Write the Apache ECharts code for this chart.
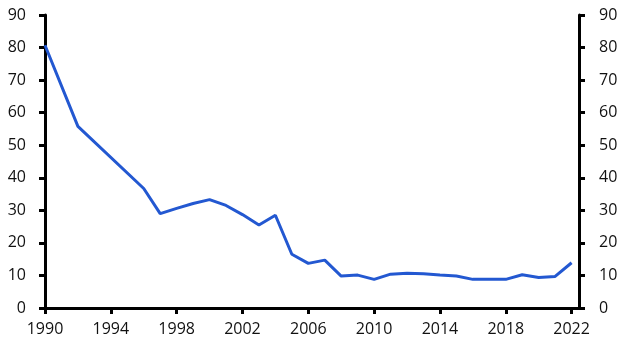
<!DOCTYPE html>
<html>
<head>
<meta charset="utf-8">
<script src="https://cdn.jsdelivr.net/npm/echarts@6/dist/echarts.min.js"></script>
<style>
html,body{margin:0;padding:0;background:#fff;}
#chart{width:629px;height:355px;}
</style>
</head>
<body>
<div id="chart"></div>
<script>
const years = [1990, 1992, 1996, 1997, 1998, 1999, 2000, 2001, 2002, 2003, 2004, 2005, 2006, 2007, 2008, 2009, 2010, 2011, 2012, 2013, 2014, 2015, 2016, 2017, 2018, 2019, 2020, 2021, 2022];
const values = [80.7, 55.8, 36.7, 29.0, 30.6, 32.1, 33.3, 31.5, 28.7, 25.5, 28.5, 16.5, 13.7, 14.7, 9.8, 10.1, 8.8, 10.4, 10.7, 10.5, 10.1, 9.8, 8.8, 8.8, 8.8, 10.2, 9.4, 9.7, 13.9];
const yTicks = [0, 10, 20, 30, 40, 50, 60, 70, 80, 90];
const xTickLabels = [1990, 1994, 1998, 2002, 2006, 2010, 2014, 2018, 2022];

const chart = echarts.init(document.getElementById('chart'), null, {renderer: 'canvas'});
const fontFamily = '"Open Sans", "Noto Sans", sans-serif';
const axisLineStyle = {color: '#000', width: 3};
const yAxisCommon = {
  type: 'value', min: yTicks[0], max: yTicks[yTicks.length - 1], interval: 10,
  axisLine: {show: true, lineStyle: axisLineStyle},
  axisTick: {show: true, length: 6, lineStyle: {color: '#000', width: 3}},
  splitLine: {show: false},
  axisLabel: {fontFamily: fontFamily, fontSize: 16, color: '#111'}
};
chart.setOption({
  animation: false,
  grid: {left: 45, right: 50, top: 15, bottom: 47},
  xAxis: {
    type: 'value', min: 1990, max: 2022.45, interval: 4,
    axisLine: {show: true, lineStyle: axisLineStyle, onZero: false},
    axisTick: {show: true, length: 6, lineStyle: {color: '#000', width: 3}},
    splitLine: {show: false},
    axisLabel: {
      fontFamily: fontFamily, fontSize: 16, color: '#111', margin: 13,
      showMaxLabel: false,
      formatter: function (v) { return xTickLabels.indexOf(v) >= 0 ? String(v) : ''; }
    }
  },
  yAxis: [
    Object.assign({}, yAxisCommon, {position: 'left', axisLabel: Object.assign({}, yAxisCommon.axisLabel, {margin: 19})}),
    Object.assign({}, yAxisCommon, {position: 'right', axisLabel: Object.assign({}, yAxisCommon.axisLabel, {margin: 20})})
  ],
  series: [{
    type: 'line',
    data: years.map((y, i) => [y, values[i]]),
    showSymbol: false,
    lineStyle: {color: '#2358d1', width: 3},
    yAxisIndex: 0
  }]
});
</script>
</body>
</html>
